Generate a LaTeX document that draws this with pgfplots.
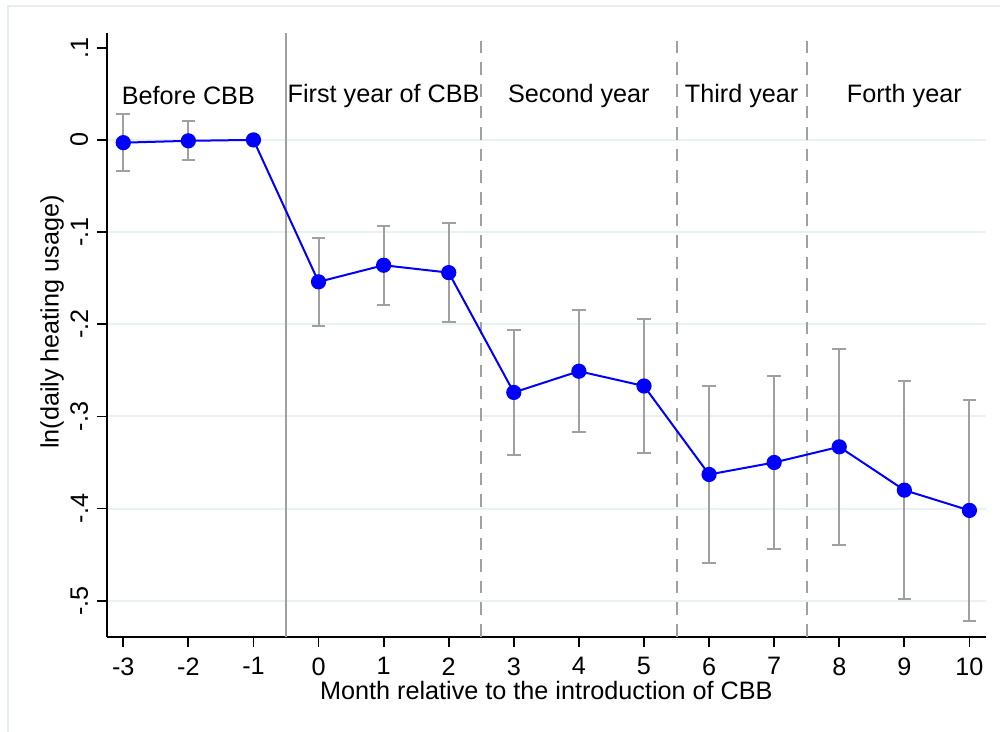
\documentclass[border=0pt]{standalone}
\usepackage{pgfplots}
\pgfplotsset{compat=1.18}
\usepackage{pgfplotstable}
\usepackage{fontspec}
\setmainfont{Liberation Sans}
\definecolor{gridc}{RGB}{234,241,243}
\definecolor{barc}{RGB}{160,160,160}
\definecolor{framec}{RGB}{232,238,240}

\pgfplotstableread{
x y err
-3 -0.003 0.031
-2 -0.001 0.021
0 -0.154 0.048
1 -0.136 0.043
2 -0.144 0.0535
3 -0.274 0.068
4 -0.251 0.066
5 -0.267 0.073
6 -0.363 0.0965
7 -0.350 0.094
8 -0.333 0.1065
9 -0.380 0.118
10 -0.402 0.120
}\cidata

\pgfplotstableread{
x y
-3 -0.003
-2 -0.001
-1 0.000
0 -0.154
1 -0.136
2 -0.144
3 -0.274
4 -0.251
5 -0.267
6 -0.363
7 -0.350
8 -0.333
9 -0.380
10 -0.402
}\pointdata

\begin{document}
\fontsize{12.6}{15}\selectfont
\begin{tikzpicture}
\useasboundingbox (0,0) rectangle (500pt,366pt);
\draw[framec, line width=0.8pt] (4pt,0) -- (4pt,363pt) -- (500pt,363pt);
\begin{axis}[
  at={(53.5pt,47.65pt)}, anchor=south west,
  scale only axis, width=439.35pt, height=301.85pt,
  xmin=-3.25, xmax=10.25, ymin=-0.539, ymax=0.116,
  axis lines*=left,
  axis line style={line width=0.9pt, black},
  tick align=outside,
  major tick length=5pt,
  tick style={line width=0.9pt, black},
  xtick={-3,...,10},
  ytick={-0.5,-0.4,-0.3,-0.2,-0.1,0},
  yticklabels={-.5,-.4,-.3,-.2,-.1,0},
  extra y ticks={0.1},
  extra y tick labels={.1},
  extra y tick style={grid=none},
  ymajorgrids,
  major grid style={gridc, line width=1pt},
  /pgf/number format/assume math mode=true,
  yticklabel style={rotate=90, anchor=south, font=\fontsize{12.6}{15}\selectfont},
  xticklabel style={font=\fontsize{12.6}{15}\selectfont, yshift=-1pt},
  every axis y label/.style={at={(axis description cs:0,0.521)}, rotate=90, anchor=center, yshift=27.5pt},
  every axis x label/.style={at={(axis description cs:0.5,0)}, anchor=center, yshift=-26.65pt},
  xlabel={Month relative to the introduction of CBB},
  ylabel={ln(daily heating usage)},
  label style={font=\fontsize{12.6}{15}\selectfont},
  clip=false,
]
\addplot[barc, line width=1pt, forget plot] coordinates {(-0.5,-0.539) (-0.5,0.116)};
\addplot[barc, line width=1pt, dash pattern=on 6.3pt off 4.5pt, forget plot] coordinates {(2.5,-0.539) (2.5,0.116)};
\addplot[barc, line width=1pt, dash pattern=on 6.3pt off 4.5pt, forget plot] coordinates {(5.5,-0.539) (5.5,0.116)};
\addplot[barc, line width=1pt, dash pattern=on 6.3pt off 4.5pt, forget plot] coordinates {(7.5,-0.539) (7.5,0.116)};
\addplot[draw=none, mark=none,
  error bars/.cd, y dir=both, y explicit,
  error bar style={barc, line width=1pt},
  error mark options={rotate=90, barc, mark size=3.4pt, line width=1pt}]
  table[x=x, y=y, y error=err] {\cidata};
\addplot[blue, line width=1pt, mark=*, mark size=3.3pt, mark options={fill=blue, draw=blue}]
  table[x=x, y=y] {\pointdata};
\node[font=\fontsize{12.6}{15}\selectfont] at (axis cs:-2,0.048) {Before CBB};
\node[font=\fontsize{12.6}{15}\selectfont] at (axis cs:1,0.048) {First year of CBB};
\node[font=\fontsize{12.6}{15}\selectfont] at (axis cs:4,0.048) {Second year};
\node[font=\fontsize{12.6}{15}\selectfont] at (axis cs:6.5,0.048) {Third year};
\node[font=\fontsize{12.6}{15}\selectfont] at (axis cs:9,0.048) {Forth year};
\end{axis}
\end{tikzpicture}
\end{document}
